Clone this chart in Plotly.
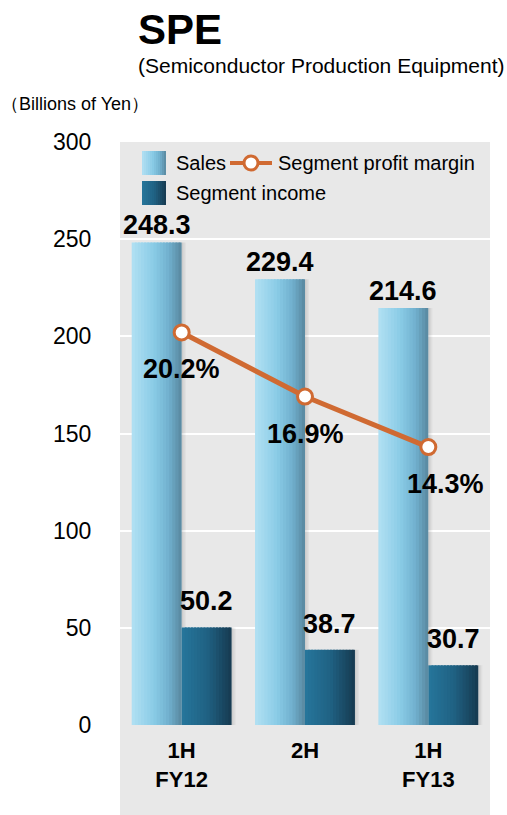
import plotly.graph_objects as go

categories = ["1H<br>FY12", "2H", "1H<br>FY13"]
sales = [248.3, 229.4, 214.6]
segment_income = [50.2, 38.7, 30.7]
profit_margin = [20.2, 16.9, 14.3]
y_ticks = [0, 50, 100, 150, 200, 250, 300]

FONT = "Liberation Sans, Arial, sans-serif"
LINE_COLOR = "#d06a32"

W, H = 507, 815
L, R, T, B = 120, 17, 142, 90
pw, ph = W - L - R, H - T - B


def px_x(x):
    return (x - L) / pw


def px_y(y):
    return (H - B - y) / ph


def lerp(c1, c2, t):
    return tuple(int(round(a + (b - a) * t)) for a, b in zip(c1, c2))


def grad(stops, t):
    for i in range(len(stops) - 1):
        p0, c0 = stops[i]
        p1, c1 = stops[i + 1]
        if p0 <= t <= p1:
            return lerp(c0, c1, (t - p0) / (p1 - p0) if p1 > p0 else 0)
    return stops[-1][1]


def rgb(c):
    return "rgb(%d,%d,%d)" % c


sales_stops = [(0.0, (178, 224, 243)), (0.45, (137, 203, 230)), (0.75, (112, 175, 205)), (1.0, (88, 135, 158))]
income_stops = [(0.0, (38, 118, 155)), (0.5, (32, 98, 132)), (1.0, (22, 58, 80))]

fig = go.Figure()

K = 16
BW = 0.405
sw = BW / K

# soft shadows to the right of the bars
SH = 0.011
for vals, base in [(sales, -BW), (segment_income, 0.0)]:
    for j, a in enumerate([0.16, 0.10, 0.05]):
        fig.add_trace(go.Bar(
            x=categories, y=vals,
            width=[SH] * len(vals),
            offset=[base + BW + j * SH] * len(vals),
            marker=dict(color="rgba(60,60,60,%.2f)" % a, line=dict(width=0)),
            showlegend=False, hoverinfo="skip",
        ))

for vals, stops, base in [(sales, sales_stops, -BW), (segment_income, income_stops, 0.0)]:
    for i in range(K):
        c = grad(stops, (i + 0.5) / K)
        wd = sw * (1.6 if i < K - 1 else 1.0)
        fig.add_trace(go.Bar(
            x=categories, y=vals,
            width=[wd] * len(vals),
            offset=[base + i * sw] * len(vals),
            marker=dict(color=rgb(c), line=dict(width=0)),
            showlegend=False,
            hoverinfo="skip",
        ))

LABEL_FONT = dict(family=FONT, size=27, color="black", weight="bold")

for vals, dx, ys in [(sales, -BW / 2, 0), (segment_income, BW / 2, 9)]:
    for i, v in enumerate(vals):
        fig.add_annotation(
            x=i + dx, y=v, xref="x", yref="y",
            text="%.1f" % v, showarrow=False, yanchor="bottom", yshift=ys,
            font=LABEL_FONT,
        )

fig.add_trace(go.Scatter(
    x=categories, y=profit_margin, yaxis="y2",
    mode="lines+markers",
    line=dict(color=LINE_COLOR, width=5),
    marker=dict(size=15, color="white", line=dict(color=LINE_COLOR, width=3)),
    showlegend=False,
    hoverinfo="skip",
))

for i, m in enumerate(profit_margin):
    fig.add_annotation(
        x=i, y=m, xref="x", yref="y2",
        text="%.1f%%" % m, showarrow=False, yanchor="middle",
        yshift=-37, xshift=(17 if i == 2 else 0),
        font=LABEL_FONT,
    )

# gray extension below the plot area
fig.add_shape(type="rect", xref="paper", yref="paper", x0=0, x1=1, y0=-B / ph, y1=1,
              fillcolor="#e8e8e8", line=dict(width=0), layer="below")


# ---- manual legend ----
def swatch(x0, y0, size, stops):
    n = 12
    for i in range(n):
        c = grad(stops, (i + 0.5) / n)
        xa = x0 + size * i / n
        xb = x0 + size * (i + 1) / n + (0.6 if i < n - 1 else 0)
        fig.add_shape(type="rect", xref="paper", yref="paper",
                      x0=px_x(xa), x1=px_x(xb), y0=px_y(y0 + size), y1=px_y(y0),
                      fillcolor=rgb(c), line=dict(width=0), layer="above")


LEG_FONT = dict(family=FONT, size=20, color="black")
swatch(142, 151, 24, sales_stops)
swatch(142, 181, 24, income_stops)
fig.add_annotation(x=px_x(174), y=px_y(163), xref="paper", yref="paper", text="Sales",
                   showarrow=False, xanchor="left", yanchor="middle", font=LEG_FONT)
fig.add_annotation(x=px_x(174), y=px_y(193), xref="paper", yref="paper", text="Segment income",
                   showarrow=False, xanchor="left", yanchor="middle", font=LEG_FONT)
fig.add_annotation(x=px_x(276), y=px_y(163), xref="paper", yref="paper", text="Segment profit margin",
                   showarrow=False, xanchor="left", yanchor="middle", font=LEG_FONT)
fig.add_shape(type="line", xref="paper", yref="paper", x0=px_x(230), x1=px_x(272),
              y0=px_y(163), y1=px_y(163), line=dict(color=LINE_COLOR, width=4))
fig.add_shape(type="circle", xref="paper", yref="paper", x0=px_x(244), x1=px_x(258),
              y0=px_y(170), y1=px_y(156), fillcolor="white", line=dict(color=LINE_COLOR, width=3))

# ---- titles ----
fig.add_annotation(x=px_x(136), y=px_y(29), xref="paper", yref="paper", text="<b>SPE</b>",
                   showarrow=False, xanchor="left", yanchor="middle",
                   font=dict(family=FONT, size=42, color="black"))
fig.add_annotation(x=px_x(136), y=px_y(65), xref="paper", yref="paper",
                   text="(Semiconductor Production Equipment)",
                   showarrow=False, xanchor="left", yanchor="middle",
                   font=dict(family=FONT, size=21, color="black"))
fig.add_annotation(x=px_x(-1), y=px_y(104), xref="paper", yref="paper",
                   text="（Billions of Yen）",
                   showarrow=False, xanchor="left", yanchor="middle",
                   font=dict(family=FONT, size=18, color="black"))

fig.update_layout(
    width=W, height=H,
    margin=dict(l=L, r=R, t=T, b=B, autoexpand=False),
    paper_bgcolor="white",
    plot_bgcolor="#e8e8e8",
    barmode="overlay",
    showlegend=False,
    font=dict(family=FONT, color="black"),
    xaxis=dict(
        type="category", range=[-0.5, 2.5],
        showgrid=False, zeroline=False, showline=False,
        ticks="outside", ticklen=6, tickcolor="rgba(0,0,0,0)",
        tickfont=dict(family=FONT, size=22, color="black", weight="bold"),
    ),
    yaxis=dict(
        range=[0, 300], tickvals=y_ticks,
        showgrid=True, gridcolor="white", gridwidth=2,
        zeroline=False, showline=False,
        ticks="outside", ticklen=23, tickcolor="rgba(0,0,0,0)",
        tickfont=dict(family=FONT, size=23, color="black"),
    ),
    yaxis2=dict(range=[0, 30], overlaying="y", visible=False),
)

fig.write_html("out.html", config={"displayModeBar": False},
               post_script="document.body.style.margin='0';")
